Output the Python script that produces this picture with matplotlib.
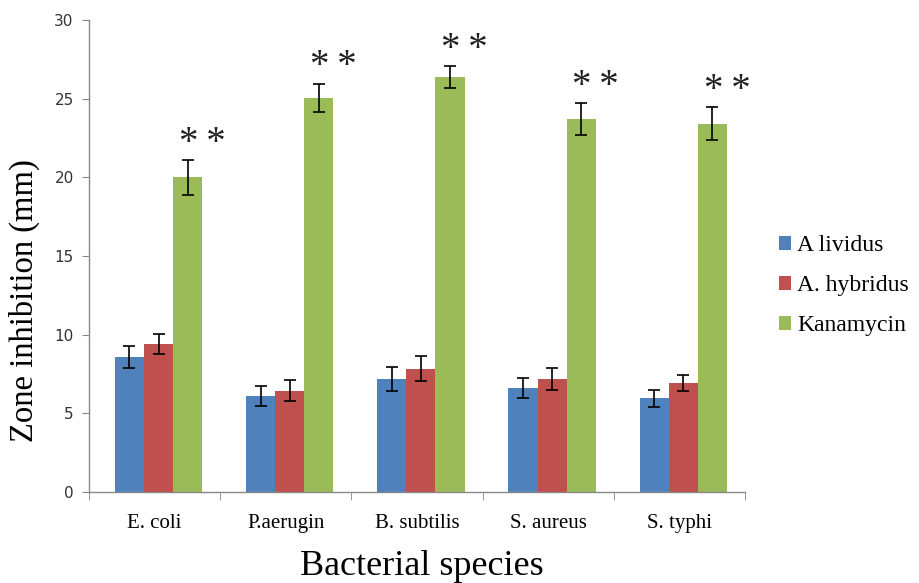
import matplotlib
matplotlib.use("Agg")
import matplotlib.pyplot as plt
import numpy as np

categories = ["E. coli", "P.aerugin", "B. subtilis", "S. aureus", "S. typhi"]
series_names = ["A lividus", "A. hybridus", "Kanamycin"]
lividus = [8.6, 6.1, 7.2, 6.6, 5.95]
hybridus = [9.4, 6.45, 7.85, 7.2, 6.95]
kanamycin = [20.0, 25.05, 26.35, 23.7, 23.4]
lividus_err = [0.7, 0.65, 0.75, 0.65, 0.55]
hybridus_err = [0.65, 0.65, 0.8, 0.7, 0.5]
kanamycin_err = [1.1, 0.9, 0.7, 1.0, 1.05]
star_labels = ["*\u2009*"] * 5
yticks = [0, 5, 10, 15, 20, 25, 30]

colors = ["#4F81BD", "#C0504D", "#9BBB59"]

fig = plt.figure(figsize=(9.19, 5.83), dpi=100)
ax = fig.add_axes([0.0968, 0.156, 0.7139, 0.8097])

x = np.arange(len(categories))
w = 0.222
off = 0.03
vals = [lividus, hybridus, kanamycin]
errs = [lividus_err, hybridus_err, kanamycin_err]
for i, (v, e, c, n) in enumerate(zip(vals, errs, colors, series_names)):
    ax.bar(x + off + (i - 1) * w, v, width=w, color=c, label=n,
           yerr=e, capsize=4,
           error_kw=dict(ecolor="black", elinewidth=1.2, capthick=1.2))

for xi, v, e, s in zip(x, kanamycin, kanamycin_err, star_labels):
    ax.text(xi + off + w + 0.11, v + e - 0.1, s, ha="center", va="bottom",
            fontsize=28, family=["Liberation Serif", "DejaVu Serif"], color="#222222")

ax.set_xlim(-0.5, len(categories) - 0.5)
ax.set_ylim(0, 30)
ax.set_yticks(yticks)
ax.set_yticklabels([str(t) for t in yticks], fontsize=11, family="DejaVu Sans", color="#333333")
ax.set_xticks(x)
ax.set_xticklabels(categories, fontsize=15, family="Liberation Serif")
ax.set_xticks(np.arange(-0.5, len(categories)), minor=True)
ax.tick_params(axis="x", which="major", length=0, pad=16)
ax.tick_params(axis="x", which="minor", length=6, color="#888888", direction="out")
ax.tick_params(axis="y", length=5, color="#888888", direction="out", pad=6)

for s in ["top", "right"]:
    ax.spines[s].set_visible(False)
for s in ["left", "bottom"]:
    ax.spines[s].set_color("#888888")
    ax.spines[s].set_linewidth(1.0)

ax.set_ylabel("Zone inhibition (mm)", fontsize=23.5, family="Liberation Serif")
ax.yaxis.set_label_coords(-0.075, 0.405)
ax.set_xlabel("Bacterial species", fontsize=26, family="Liberation Serif")
ax.xaxis.set_label_coords(0.508, -0.122)

leg = ax.legend(loc="center left", bbox_to_anchor=(1.02, 0.437), frameon=False,
                prop={"family": "Liberation Serif", "size": 17},
                handlelength=0.5, handleheight=0.5, handletextpad=0.25, labelspacing=0.8)

fig.savefig("out.png", dpi=100)
